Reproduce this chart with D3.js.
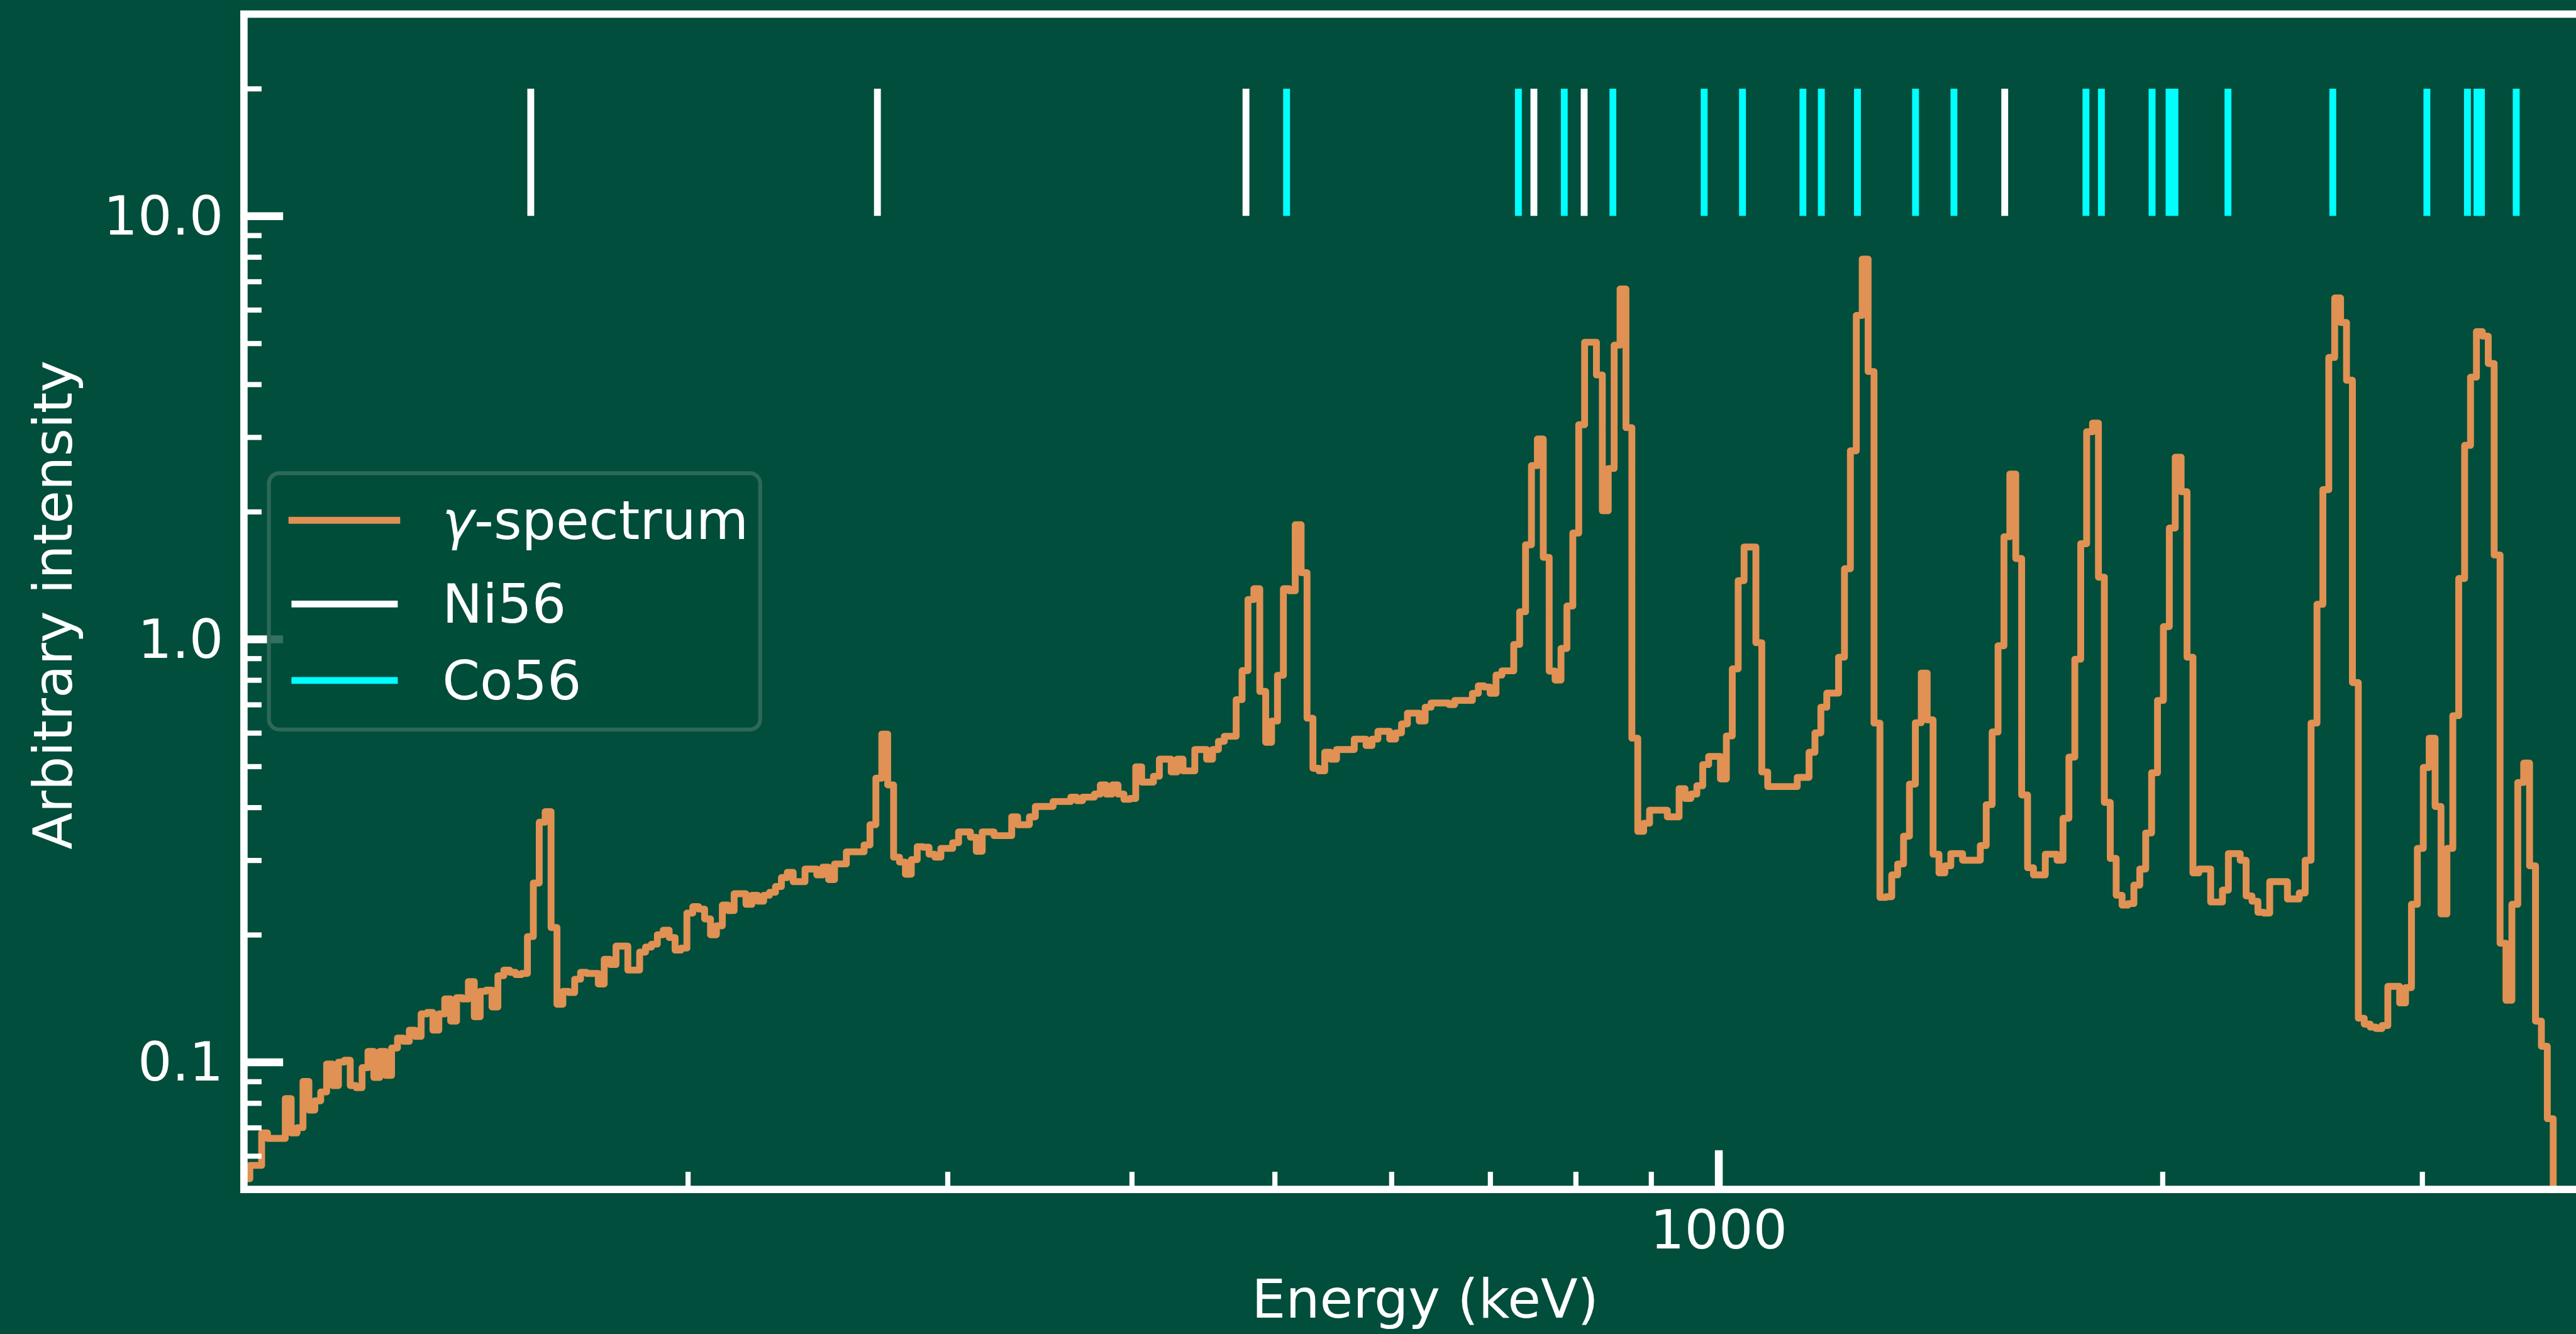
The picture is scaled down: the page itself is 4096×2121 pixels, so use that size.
<!DOCTYPE html>
<html>
<head>
<meta charset="utf-8">
<title>Gamma spectrum</title>
<script src="https://d3js.org/d3.v7.min.js"></script>
<style>
  html, body { margin: 0; padding: 0; background: #004e3b; overflow: hidden; }
  svg { display: block; }
</style>
</head>
<body>
<svg id="chart" width="4096" height="2121" viewBox="0 0 5259 2723"></svg>
<script>

// spectrum is a histogram on log-spaced energy bins
var eMin = 100, eMax = 4000, nBins = 400;

// arbitrary intensity per bin (bins past the last one fall below the axis)
var spectrum = [
  0.053, 0.057, 0.057, 0.068, 0.066, 0.066, 0.066, 0.082, 0.068, 0.070,
  0.090, 0.077, 0.081, 0.085, 0.099, 0.088, 0.100, 0.101, 0.088, 0.087,
  0.097, 0.106, 0.092, 0.106, 0.093, 0.108, 0.114, 0.112, 0.119, 0.115,
  0.130, 0.131, 0.119, 0.130, 0.141, 0.125, 0.142, 0.141, 0.155, 0.128,
  0.147, 0.148, 0.135, 0.160, 0.165, 0.163, 0.161, 0.162, 0.198, 0.265,
  0.369, 0.391, 0.208, 0.137, 0.147, 0.146, 0.157, 0.163, 0.162, 0.162,
  0.153, 0.175, 0.170, 0.188, 0.188, 0.165, 0.165, 0.182, 0.187, 0.190,
  0.200, 0.205, 0.197, 0.184, 0.186, 0.225, 0.233, 0.230, 0.218, 0.200,
  0.210, 0.235, 0.228, 0.250, 0.250, 0.236, 0.248, 0.240, 0.248, 0.252,
  0.260, 0.273, 0.281, 0.267, 0.267, 0.286, 0.286, 0.277, 0.289, 0.270,
  0.294, 0.294, 0.314, 0.314, 0.314, 0.326, 0.364, 0.469, 0.596, 0.452,
  0.305, 0.297, 0.278, 0.301, 0.323, 0.322, 0.310, 0.305, 0.320, 0.320,
  0.330, 0.350, 0.350, 0.340, 0.315, 0.350, 0.350, 0.343, 0.343, 0.343,
  0.380, 0.364, 0.364, 0.380, 0.402, 0.402, 0.402, 0.413, 0.413, 0.413,
  0.423, 0.415, 0.423, 0.423, 0.430, 0.452, 0.430, 0.452, 0.430, 0.418,
  0.420, 0.499, 0.459, 0.459, 0.474, 0.520, 0.520, 0.485, 0.520, 0.488,
  0.488, 0.548, 0.548, 0.520, 0.548, 0.573, 0.589, 0.589, 0.719, 0.842,
  1.24, 1.315, 0.752, 0.570, 0.640, 0.821, 1.315, 1.30, 1.863, 1.435,
  0.650, 0.495, 0.488, 0.540, 0.520, 0.548, 0.548, 0.548, 0.580, 0.580,
  0.560, 0.580, 0.605, 0.605, 0.580, 0.600, 0.630, 0.668, 0.668, 0.640,
  0.690, 0.706, 0.706, 0.706, 0.700, 0.716, 0.716, 0.716, 0.744, 0.775,
  0.770, 0.744, 0.822, 0.841, 0.841, 0.971, 1.16, 1.67, 2.57, 2.97,
  1.56, 0.84, 0.80, 0.95, 1.197, 1.78, 3.21, 5.03, 5.03, 4.21,
  2.01, 2.53, 4.95, 6.72, 3.16, 0.583, 0.351, 0.367, 0.394, 0.394,
  0.394, 0.380, 0.380, 0.443, 0.420, 0.430, 0.450, 0.505, 0.528, 0.528,
  0.467, 0.590, 0.850, 1.374, 1.65, 1.65, 0.98, 0.485, 0.448, 0.448,
  0.448, 0.448, 0.448, 0.471, 0.471, 0.540, 0.600, 0.690, 0.745, 0.745,
  0.906, 1.466, 2.786, 5.82, 7.91, 4.29, 0.633, 0.245, 0.246, 0.277,
  0.294, 0.342, 0.454, 0.634, 0.831, 0.644, 0.310, 0.280, 0.291, 0.311,
  0.311, 0.300, 0.300, 0.300, 0.325, 0.406, 0.603, 0.964, 1.745, 2.455,
  1.55, 0.428, 0.288, 0.277, 0.277, 0.310, 0.310, 0.300, 0.377, 0.526,
  0.896, 1.68, 3.09, 3.24, 1.40, 0.411, 0.303, 0.248, 0.235, 0.237,
  0.262, 0.286, 0.348, 0.483, 0.716, 1.07, 1.83, 2.69, 2.23, 0.906,
  0.280, 0.286, 0.286, 0.239, 0.239, 0.255, 0.311, 0.311, 0.300, 0.247,
  0.240, 0.226, 0.225, 0.267, 0.267, 0.267, 0.243, 0.243, 0.251, 0.300,
  0.633, 1.208, 2.255, 4.63, 6.40, 5.60, 4.09, 0.789, 0.127, 0.123,
  0.121, 0.120, 0.122, 0.151, 0.151, 0.138, 0.150, 0.236, 0.320, 0.497,
  0.583, 0.402, 0.224, 0.320, 0.659, 1.39, 2.87, 4.16, 5.33, 5.20,
  4.48, 1.58, 0.191, 0.140, 0.236, 0.458, 0.509, 0.291, 0.125, 0.109,
  0.0735, 0.03
];

// line energies in keV
var ni56 = [156.5, 268.9, 478.1, 749.5, 810.7, 1563.4];
var co56 = [509.4, 731.6, 785.9, 847.9, 977.8, 1038.1, 1140.8, 1174.1, 1242.2,
            1360.1, 1444.2, 1774.8, 1818.1, 1967.9, 2020.7, 2039.3, 2215.4,
            2609.3, 3022.4, 3219.9, 3268.3, 3290.9, 3474.8];
var lineRange = [10, 20];

var yMajor = [0.1, 1, 10];
var yMajorLabels = ["0.1", "1.0", "10.0"];
var yMinor = [0.06, 0.07, 0.08, 0.09, 0.2, 0.3, 0.4, 0.5, 0.6, 0.7, 0.8, 0.9,
              2, 3, 4, 5, 6, 7, 8, 9, 20];
var xMajor = [1000];
var xMajorLabels = ["1000"];
var xMinor = [200, 300, 400, 500, 600, 700, 800, 900, 2000, 3000];

var legendLabels = ["-spectrum", "Ni56", "Co56"];

// drawing is done in the reference's pixel units, the viewBox scales it down
var bg = "#004e3b";
var orange = "#e09153";
var font = "DejaVu Sans";
var fontSize = 110;
var plot = {left: 498, right: 5321, top: 28.7, bottom: 2428};

var svg = d3.select("#chart");

svg.append("rect")
    .attr("width", 5259)
    .attr("height", 2723)
    .attr("fill", bg);

var x = d3.scaleLog().domain([eMin, eMax]).range([plot.left, plot.right]);
var y = d3.scaleLog().domain([0.05, 30]).range([plot.bottom, plot.top]);

svg.append("clipPath")
    .attr("id", "plotclip")
    .append("rect")
    .attr("x", plot.left)
    .attr("y", plot.top)
    .attr("width", plot.right - plot.left)
    .attr("height", plot.bottom - plot.top);

// bin edges of the histogram
var edges = d3.range(nBins + 1).map(function(i) {
    return eMin * Math.pow(eMax / eMin, i / nBins);
});

var steps = spectrum.map(function(v, i) { return [edges[i], v]; });
steps.push([edges[spectrum.length], spectrum[spectrum.length - 1]]);

var line = d3.line()
    .x(function(d) { return x(d[0]); })
    .y(function(d) { return y(d[1]); })
    .curve(d3.curveStepAfter);

var plotArea = svg.append("g").attr("clip-path", "url(#plotclip)");

plotArea.append("path")
    .attr("d", line(steps))
    .attr("fill", "none")
    .attr("stroke", orange)
    .attr("stroke-width", 14)
    .attr("stroke-linejoin", "round")
    .attr("stroke-linecap", "square");

function drawLines(energies, color) {
    plotArea.append("g")
        .selectAll("line")
        .data(energies)
        .enter().append("line")
        .attr("x1", function(d) { return x(d); })
        .attr("x2", function(d) { return x(d); })
        .attr("y1", y(lineRange[0]))
        .attr("y2", y(lineRange[1]))
        .attr("stroke", color)
        .attr("stroke-width", 14);
}

drawLines(ni56, "#ffffff");
drawLines(co56, "#00ffff");

// frame
svg.append("rect")
    .attr("x", plot.left)
    .attr("y", plot.top)
    .attr("width", plot.right - plot.left)
    .attr("height", plot.bottom - plot.top)
    .attr("fill", "none")
    .attr("stroke", "#ffffff")
    .attr("stroke-width", 15);

function styleAxis(g, width) {
    g.select(".domain").remove();
    g.attr("color", "#ffffff");
    g.selectAll(".tick line").attr("stroke-width", width);
    g.selectAll(".tick text")
        .attr("font-family", font)
        .attr("font-size", fontSize)
        .attr("fill", "#ffffff");
}

var yMinorAxis = svg.append("g")
    .attr("transform", "translate(" + plot.left + ",0)")
    .call(d3.axisLeft(y).tickValues(yMinor).tickFormat("").tickSize(-36));
styleAxis(yMinorAxis, 10.5);

var yMajorAxis = svg.append("g")
    .attr("transform", "translate(" + plot.left + ",0)")
    .call(d3.axisLeft(y).tickValues(yMajor)
        .tickFormat(function(d, i) { return yMajorLabels[i]; })
        .tickSize(-80).tickPadding(42));
styleAxis(yMajorAxis, 16);
yMajorAxis.selectAll(".tick text").attr("dy", "0.34em");

var xMinorAxis = svg.append("g")
    .attr("transform", "translate(0," + plot.bottom + ")")
    .call(d3.axisBottom(x).tickValues(xMinor).tickFormat("").tickSize(-36));
styleAxis(xMinorAxis, 10.5);

var xMajorAxis = svg.append("g")
    .attr("transform", "translate(0," + plot.bottom + ")")
    .call(d3.axisBottom(x).tickValues(xMajor)
        .tickFormat(function(d, i) { return xMajorLabels[i]; })
        .tickSize(-80).tickPadding(42));
styleAxis(xMajorAxis, 16);

// axis titles
svg.append("text")
    .attr("x", (plot.left + plot.right) / 2)
    .attr("y", 2690)
    .attr("text-anchor", "middle")
    .attr("font-family", font)
    .attr("font-size", fontSize)
    .attr("fill", "#ffffff")
    .text("Energy (keV)");

svg.append("text")
    .attr("transform", "translate(147,1235) rotate(-90)")
    .attr("text-anchor", "middle")
    .attr("font-family", font)
    .attr("font-size", fontSize)
    .attr("fill", "#ffffff")
    .text("Arbitrary intensity");

// legend
var legend = svg.append("g");

legend.append("rect")
    .attr("x", 549)
    .attr("y", 966)
    .attr("width", 1003)
    .attr("height", 523)
    .attr("rx", 21)
    .attr("fill", bg)
    .attr("fill-opacity", 0.8)
    .attr("stroke", "#2d6958")
    .attr("stroke-width", 8);

var rowY = [1062, 1233, 1389];
var handleColors = [orange, "#ffffff", "#00ffff"];

legend.selectAll("line")
    .data(legendLabels)
    .enter().append("line")
    .attr("x1", function(d, i) { return i === 0 ? 596 : 595; })
    .attr("x2", function(d, i) { return i === 0 ? 810 : 812; })
    .attr("y1", function(d, i) { return rowY[i]; })
    .attr("y2", function(d, i) { return rowY[i]; })
    .attr("stroke", function(d, i) { return handleColors[i]; })
    .attr("stroke-width", 14)
    .attr("stroke-linecap", function(d, i) { return i === 0 ? "square" : "butt"; });

var labels = legend.selectAll("text")
    .data(legendLabels)
    .enter().append("text")
    .attr("x", 903)
    .attr("y", function(d, i) { return rowY[i] + 38; })
    .attr("font-family", font)
    .attr("font-size", fontSize)
    .attr("fill", "#ffffff");

labels.each(function(d, i) {
    var t = d3.select(this);
    if (i === 0) {
        t.append("tspan").attr("font-style", "italic").text("\u03b3");
        t.append("tspan").text(d);
    } else {
        t.text(d);
    }
});

</script>
</body>
</html>
